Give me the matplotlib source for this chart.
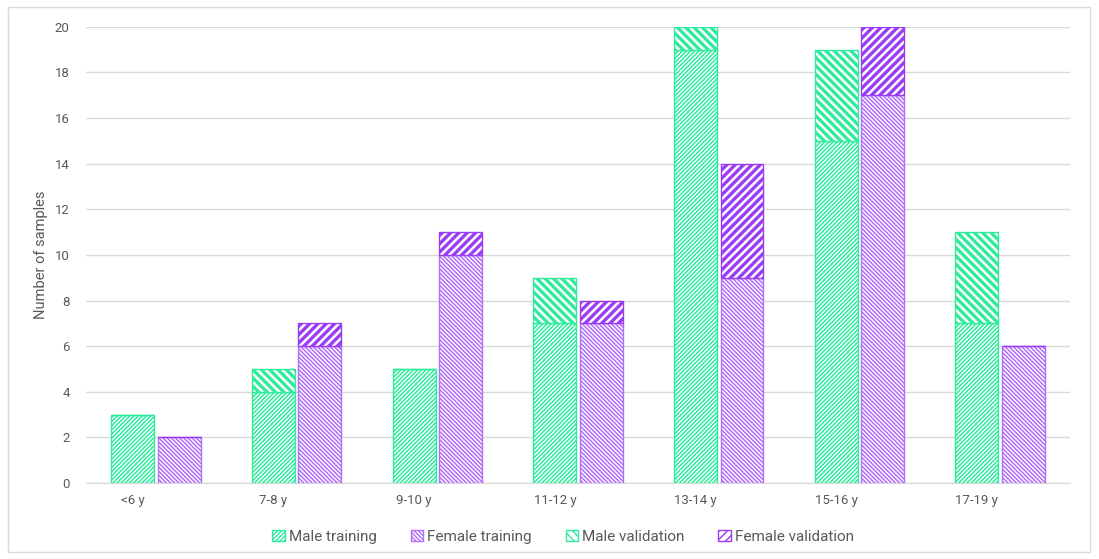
import matplotlib
matplotlib.use('Agg')
import matplotlib.pyplot as plt
import numpy as np
from matplotlib.patches import Rectangle

categories = ['<6 y', '7-8 y', '9-10 y', '11-12 y', '13-14 y', '15-16 y', '17-19 y']
male_training = [3, 4, 5, 7, 19, 15, 7]
male_validation = [0, 1, 0, 2, 1, 4, 4]
female_training = [2, 6, 10, 7, 9, 17, 6]
female_validation = [0, 1, 1, 1, 5, 3, 0]

green = '#2EEB9E'
purple = '#9B3BF5'
purple_light = '#B36EF7'
text_gray = '#595959'
grid_gray = '#D9D9D9'

plt.rcParams['font.family'] = ['Roboto', 'DejaVu Sans']

fig = plt.figure(figsize=(10.99, 5.59), dpi=100)
ax = fig.add_axes([0.078, 0.136, 0.896, 0.816])

x = np.arange(len(categories))
w = 0.305
off = 0.165


def hatched_bar(xpos, h, bottom, color, hatch, hlw, label):
    # hatch width is picked up when the patch is made
    with plt.rc_context({'hatch.linewidth': hlw}):
        bars = ax.bar(xpos, h, w, bottom=bottom, facecolor='white', edgecolor=color,
                      hatch=hatch, linewidth=1.0, label=label, zorder=3)
    return bars


hatched_bar(x - off, male_training, 0, green, '/' * 8, 1.1, 'Male training')
hatched_bar(x + off, female_training, 0, purple_light, '\\' * 8, 1.1, 'Female training')
hatched_bar(x - off, male_validation, male_training, green, '\\' * 4, 2.4, 'Male validation')
hatched_bar(x + off, female_validation, female_training, purple, '/' * 4, 2.4, 'Female validation')

ax.set_xlim(-0.5, 6.5)
ax.set_ylim(0, 20)
ax.set_yticks(range(0, 21, 2))
ax.set_xticks(x - off)
ax.set_xticklabels(categories)
ax.tick_params(axis='both', length=0, colors=text_gray, labelsize=9.5)
ax.tick_params(axis='y', pad=11.5)
ax.tick_params(axis='x', pad=8)
ax.grid(axis='y', color=grid_gray, linewidth=1.0, zorder=0)
ax.set_axisbelow(True)
for s in ['top', 'right', 'left']:
    ax.spines[s].set_visible(False)
ax.spines['bottom'].set_color(grid_gray)
ax.set_ylabel('Number of samples', color=text_gray, fontsize=10.5, labelpad=5)

ax.legend(loc='center', bbox_to_anchor=(0.485, -0.118), ncol=4, frameon=False,
          fontsize=11, labelcolor=text_gray, handlelength=0.8, handleheight=0.8,
          handletextpad=0.3, columnspacing=2.2)

fig.patches.append(Rectangle((0.007, 0.012), 0.985, 0.975, transform=fig.transFigure,
                             fill=False, edgecolor='#D9D9D9', linewidth=1.0))

fig.savefig('out.png', dpi=100)
